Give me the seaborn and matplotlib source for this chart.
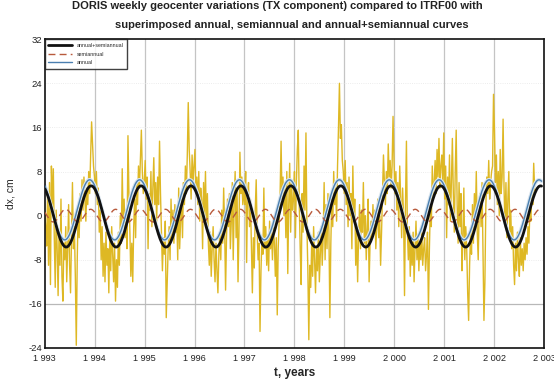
import numpy as np
import pandas as pd
import matplotlib
matplotlib.use("Agg")
import matplotlib.pyplot as plt
import seaborn as sns

# weekly DORIS geocenter TX values (cm), one list per year
dx_1993 = [0.5, -2, -5.5, 4, -9, 6, -12.5, 9, 2, 8.5, -4, -13, 1, -6, -14.5, -3, -9, 3, -11, -15.5,
           -5, -8, -2, -12, -6, 2, -9, -14, -4, 6, -6, -2, -11, -23.5, -8, 2, -4, 4, -1, 6.5,
           1, 7, 3, -1, 5, 2, 8, 4, 11, 17, 13, 9]
dx_1994 = [7, 4, 8, 2, 5, -3, 1, -8, -2, -11, -5, -12, -3, -9, -6, -14, -4, -10, -2, -7,
           -12, -5, -15.5, -8, -13, -3, -9, 0, -5, 8.5, -2, 3, -4, 1, -6, 14.5, 4, -3, -11, -5,
           -12, -2, 3, -4, 6, 2, 9, 5, 10, 15.5, 8, 4]
dx_1995 = [6, 10, 3, 7, -6, 4, 1, 8, -2, 5, 10.5, 2, 6, -1, 7, 2, 13.5, 4, -3, -10,
           -4, -7, -1, -18.5, -12, -6, -2, -8, 3, -4, 1, -5, 2, -3, 0, -8, 5, -6, -1, 3,
           -4, 6, 2, 9, 4, 11, 20.5, 12, 8, 3, 11, 6]
dx_1996 = [9, 12, 4, 7, 2, 8, -1, 5, 3, -6, 6, 0, 8, -2, 4, -5, -9, -3, -11, -6,
           -2, -8, -12, -5, -10, -14, -7, -3, -8, 1, -5, 5, -2, -13.5, -4, 3, -2, 4, -6, -1,
           6, -8, 2, 8, -4, 5, -12, -3, 11.5, 4, 7, 2]
dx_1997 = [5, 2, 8, -8.5, 4, 6, -2, 3, -6, -14, -4, -9.5, 1, 6.5, -3, -8, -5, -21, -10, -4,
           -7, 5, -6, -2, -9, -4, -10, -1, -6, -3, -8, -2, -5, -11, -4, -18, -6, -1, 4, 13.5,
           3, 7, 0, 5, -4, 8, -10.5, 2, 9.5, -3, 6, 1]
dx_1998 = [3, 8, -4, 6, 12, 15.5, 2, -6, -12.5, 4, -3, 9, 1, 15, -2, -10, -22.5, -9, -13, -5,
           -11, -2, -8, -14, -6, -10, -3, -12, -7, -2, -9, -4, 6, -8, 2, -6, 4, -3, -18.5, -5,
           3, -2, 8, 2, 5, -1, 9, 16, 24, 14, 16.5, 10]
dx_1999 = [8, 4, 10, 2, 6, -2, 7, 0, 4, -6, 9, -1, 3, -9, -3, -12, -4, 2, -6, 1,
           -3, 6, -5, 0, -8, -2, 3, -12, -5, -1, -4, 2, -3, 1, -6, -2, 3, -4, 0, -9,
           -3, 4, 11, 6, 2, 8, 4, 13, 7, 10, 5, 9]
dx_2000 = [18, 10, 4, 8, 1, 6, -2, 9, 3, -4, 5, 0, -14.5, 2, 13.5, -3, -8, -2, -11, -5,
           -9, -3, -12, -6, -1, -8, -4, -10, -5, -8, -3, -9, -6, -4, -10, -7, -3, -17, -6, 2,
           -2, 9, 3, 6, 10, 4, 12, 7, 14, 5, 9, 11]
dx_2001 = [6, 15, 3, 9, -4, 7, 2, 11, -1, 6, 14, 4, -3, 8, 15.5, 2, -5, 6, -2, 4,
           -10, -4, 5, -8, -2, -6, -14, -19, -9, -3, -7, 2, -5, 4, -1, 8, -3, -8, 1, 4,
           -2, 6, -6, -19, -12, 2, 7, 4, 10, 3, 6, 8]
dx_2002 = [9, 22, 15.5, 6, 11, 2, 8, 0, 12, 4, 7, 17.5, 5, -2, 6, -4, 3, 8, -3, 1,
           -6, -2, -9, -12.5, -5, -10, -3, -8, -11, -4, -9, -6, -10, -5, -8, -4, -7, -2, -5, 1,
           -1, 4, 2, 9.5, 4.5]

# fitted curves: offset, amplitude (cm), phase of maximum (fraction of year)
annual_fit = {"offset": 1.05, "amp": 5.45, "peak": 0.90}
semiannual_fit = {"offset": 0.0, "amp": 1.15, "peak": 0.42}
combined_fit = {"offset": -0.15, "amp": 5.55, "peak": 0.93}

start_year = 1993.0
curve_end = 2002.95
year_ticks = list(range(1993, 2004))
y_ticks = [-24, -16, -8, 0, 8, 16, 24, 32]

title_1 = "DORIS weekly geocenter variations (TX component) compared to ITRF00 with"
title_2 = "superimposed annual, semiannual and annual+semiannual curves"

dx = np.concatenate([dx_1993, dx_1994, dx_1995, dx_1996, dx_1997, dx_1998,
                     dx_1999, dx_2000, dx_2001, dx_2002])
weekly = pd.DataFrame({"t": start_year + np.arange(len(dx)) * 7 / 365.25, "dx": dx})

t = np.linspace(start_year, curve_end, 600)
curves = pd.DataFrame({
    "t": t,
    "annual": annual_fit["offset"] + annual_fit["amp"] * np.cos(2 * np.pi * (t - annual_fit["peak"])),
    "semiannual": semiannual_fit["offset"] + semiannual_fit["amp"] * np.cos(4 * np.pi * (t - semiannual_fit["peak"])),
    "combined": combined_fit["offset"] + combined_fit["amp"] * np.cos(2 * np.pi * (t - combined_fit["peak"])),
})

sns.set_style("white")
plt.rcParams['font.family'] = ['Liberation Sans', 'DejaVu Sans']

fig = plt.figure(figsize=(5.54, 3.87), dpi=100)
ax = fig.add_axes([0.0807, 0.1008, 0.9013, 0.798])

# grid: years vertical, faint dotted horizontals, -16 stronger
for yr in year_ticks[1:-1]:
    ax.axvline(yr, color='#c4c4c4', lw=0.9, zorder=0)
for yv in y_ticks[1:-1]:
    if yv == -16:
        ax.axhline(yv, color='#b8b8b8', lw=0.9, zorder=0)
    else:
        ax.axhline(yv, color='#e6e6e6', lw=0.6, ls=':', zorder=0)

sns.lineplot(data=weekly, x="t", y="dx", ax=ax, color='#deb824', lw=1.0, zorder=1)
sns.lineplot(data=curves, x="t", y="annual", ax=ax, color='#d8e4ee', lw=2.6, zorder=2)
sns.lineplot(data=curves, x="t", y="annual", ax=ax, color='#4a7fb0', lw=1.0, zorder=3,
             label="annual")
sns.lineplot(data=curves, x="t", y="semiannual", ax=ax, color='#b85a3c', lw=1.0,
             linestyle=(0, (5, 3)), zorder=3, label="semiannual")
sns.lineplot(data=curves, x="t", y="combined", ax=ax, color='#111111', lw=2.0, zorder=4,
             label="annual+semiannual")

ax.set_xlim(1993, 2003)
ax.set_ylim(-24, 32)
ax.set_xticks(year_ticks)
ax.set_xticklabels([f"{y // 1000} {y % 1000:03d}" for y in year_ticks], fontsize=6.6)
ax.set_yticks(y_ticks)
ax.set_yticklabels([str(v) for v in y_ticks], fontsize=6.8)
ax.tick_params(length=0, colors='#222222')
ax.tick_params(axis='x', pad=4)
ax.tick_params(axis='y', pad=2)
ax.set_xlabel("t, years", fontsize=8.5, fontweight='bold', labelpad=3)
ax.set_ylabel("dx, cm", fontsize=7.5, labelpad=9)

for s in ax.spines.values():
    s.set_color('#111111')
    s.set_linewidth(1.2)

handles, labels = ax.get_legend_handles_labels()
order = [labels.index("annual+semiannual"), labels.index("semiannual"), labels.index("annual")]
leg = ax.legend([handles[i] for i in order], [labels[i] for i in order], loc='upper left',
                fontsize=3.8, frameon=True, fancybox=False, borderaxespad=0.0,
                handlelength=4.5, labelspacing=0.7, borderpad=0.7)
leg.get_frame().set_edgecolor('#111111')
leg.get_frame().set_linewidth(1.0)

fig.text(0.50, 0.985, title_1, ha='center', va='center', fontsize=8, fontweight='bold', color='#222222')
fig.text(0.527, 0.935, title_2, ha='center', va='center', fontsize=8, fontweight='bold', color='#222222')

fig.savefig("out.png", dpi=100)
